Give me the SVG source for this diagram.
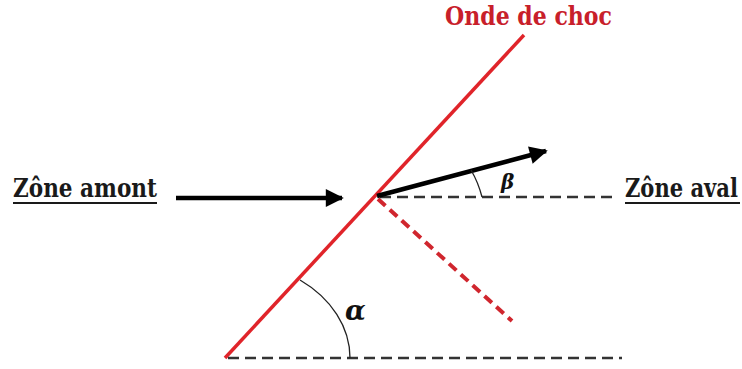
<svg xmlns="http://www.w3.org/2000/svg" width="742" height="369" viewBox="0 0 742 369">
<defs>
<style>
.lbl{fill:#1a1a1a}
.red{fill:#c8202a}
.ul{stroke:#1a1a1a;stroke-width:2}
.dash{fill:none;stroke:#333;stroke-width:2.5;stroke-dasharray:11 6}
.arr{fill:none;stroke:#000;stroke-width:4.5}
.ang{fill:none;stroke:#222;stroke-width:1.3}
.greek{fill:#111}
</style>
<marker id="ah" viewBox="0 0 10 10" refX="9" refY="5" markerWidth="4.2" markerHeight="4" orient="auto" markerUnits="strokeWidth">
<path d="M0,0 L10,5 L0,10 Z" fill="#000"/>
</marker>
</defs>
<rect width="742" height="369" fill="#fff"/>
<g id="zone-amont">
<text class="lbl" x="13" y="197" font-family="DejaVu Serif" font-weight="bold" font-size="26" textLength="144" lengthAdjust="spacingAndGlyphs">Zône amont</text>
<line class="ul" x1="13" y1="203" x2="157" y2="203"/>
</g>
<g id="zone-aval">
<text class="lbl" x="625" y="197" font-family="DejaVu Serif" font-weight="bold" font-size="26" textLength="113" lengthAdjust="spacingAndGlyphs">Zône aval</text>
<line class="ul" x1="625" y1="203" x2="740" y2="203"/>
</g>
<g id="onde-de-choc">
<line x1="225" y1="358" x2="524" y2="35" stroke="#e0242a" stroke-width="3.5"/>
<text class="lbl red" x="445" y="25" font-family="DejaVu Serif" font-weight="bold" font-size="26" textLength="167" lengthAdjust="spacingAndGlyphs">Onde de choc</text>
</g>
<g id="reflected">
<line x1="378" y1="199" x2="512" y2="321" stroke="#d0262e" stroke-width="4" stroke-dasharray="10 6"/>
</g>
<g id="connectors">
<line class="dash" x1="228" y1="358" x2="622" y2="358"/>
<line class="dash" x1="380" y1="197" x2="616" y2="197"/>
<line class="arr" x1="176" y1="198" x2="342" y2="198" marker-end="url(#ah)"/>
<line class="arr" x1="377" y1="196" x2="546" y2="151" marker-end="url(#ah)"/>
</g>
<g id="alpha">
<path class="ang" d="M300,280 A125,97.5 0 0 1 350,358"/>
<text class="greek" x="345" y="320" font-family="DejaVu Serif" font-weight="bold" font-style="italic" font-size="27">α</text>
</g>
<g id="beta">
<path class="ang" d="M482,197 A104,104 0 0 0 471,170"/>
<text class="greek" x="501" y="189" font-family="DejaVu Serif" font-weight="bold" font-style="italic" font-size="20">β</text>
</g>
</svg>
